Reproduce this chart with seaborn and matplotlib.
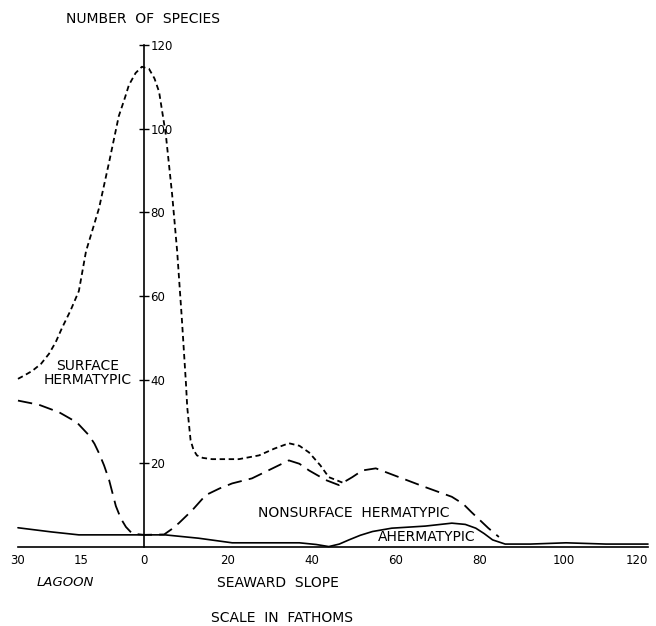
import seaborn as sns
import numpy as np
import pandas as pd
import matplotlib.pyplot as plt

# lagoon depths are stored as negative x so that 0 sits at the reef edge
surface_x = [-30, -28.5, -26.6, -24.5, -22.6, -21, -19.5, -17.5, -15.5, -13.8, -12.2, -10.7,
             -8.3, -6, -4.5, -3.6, -2, -0.5, 1.2, 2.5, 3.6, 5.2, 6.7, 7.9, 9, 10, 10.3,
             11.1, 11.8, 12.6, 14, 16.2, 22.6, 27.4, 31, 34.5, 37, 39.3, 42, 44, 47.5]
surface_y = [40.2, 41, 42.1, 43.8, 46.2, 49, 52.4, 56.5, 61.2, 70.7, 76, 81,
             92, 103, 107.5, 110.4, 113.3, 114.8, 114.3, 112, 108.8, 98.6, 84.3, 70.7, 54.8, 39, 33.4,
             25.5, 23.2, 21.9, 21.3, 21, 21, 21.9, 23.5, 24.8, 24.2, 22.6, 19.5, 16.7, 15.3]

nonsurf_x = [-30, -25, -20.2, -16, -13.1, -11.8, -10.7, -9.5, -8.3, -6.7, -5.5, -4.3, -2.8, 0, 4.8,
             6.5, 8.3, 11.5, 14.7, 18, 21, 25.7, 30, 34.5, 37, 39.3, 43.3, 46.4,
             49.6, 52, 55.2, 60.7, 67, 73.3, 76, 78, 82, 84.5]
nonsurf_y = [35, 34, 32.2, 29.8, 26.7, 24.7, 22.4, 19.5, 16, 9.8, 6.8, 4.8, 3.2, 2.9, 3,
             4.2, 5.7, 8.8, 12.4, 14, 15.2, 16.4, 18.5, 20.7, 19.9, 18.3, 16, 14.8,
             16.7, 18.3, 18.8, 16.7, 14.3, 12, 10.3, 8.3, 4.5, 2.4]

aherm_x = [-30, -22, -15.5, 0, 5, 13, 21, 30, 37, 41, 44, 46.5, 48.8, 51.5, 54.4, 59, 67,
           73.3, 76.5, 79, 81, 83, 86, 92, 100.5, 110, 120]
aherm_y = [4.6, 3.6, 2.9, 2.9, 2.9, 2.1, 1, 1, 1, 0.6, 0.1, 0.7, 1.7, 2.8, 3.7, 4.5, 5,
           5.7, 5.4, 4.5, 3.2, 1.7, 0.7, 0.7, 1, 0.7, 0.7]

x_ticks = [-30, -15, 0, 20, 40, 60, 80, 100, 120]
x_tick_labels = ["30", "15", "0", "20", "40", "60", "80", "100", "120"]
y_ticks = [20, 40, 60, 80, 100, 120]

sns.set_style("white")
plt.rcParams['font.family'] = ['DejaVu Sans']
for key in ['text.color', 'axes.labelcolor', 'xtick.color', 'ytick.color', 'axes.edgecolor']:
    plt.rcParams[key] = 'black'

fig = plt.figure(figsize=(6.56, 6.26), dpi=100)
ax = fig.add_axes([0.0274, 0.1262, 0.9604, 0.8019])

sns.lineplot(x=surface_x, y=surface_y, ax=ax, sort=False, estimator=None,
             color="black", linewidth=1.3, linestyle=(0, (3, 2)))
sns.lineplot(x=nonsurf_x, y=nonsurf_y, ax=ax, sort=False, estimator=None,
             color="black", linewidth=1.3, linestyle=(0, (8, 4)))
sns.lineplot(x=aherm_x, y=aherm_y, ax=ax, sort=False, estimator=None,
             color="black", linewidth=1.2)
for ln in ax.lines:
    ln.set_clip_on(False)
    ln.set_solid_joinstyle('round')
    ln.set_dash_joinstyle('round')

ax.set_xlim(-30, 120)
ax.set_ylim(0, 120)

# y axis drawn at the reef edge, labels on its right
ax.spines['left'].set_visible(False)
ax.spines['top'].set_visible(False)
ax.spines['right'].set_position(('data', 0))
ax.spines['right'].set_bounds(0, 120)
ax.spines['right'].set_linewidth(1.2)
ax.spines['bottom'].set_linewidth(1.2)
ax.yaxis.tick_right()
ax.set_yticks(y_ticks)
ax.tick_params(axis='y', direction='inout', length=7, width=1, labelsize=8.5, pad=1)

ax.set_xticks(x_ticks)
ax.set_xticklabels(x_tick_labels)
ax.tick_params(axis='x', direction='out', length=3, width=1, labelsize=8.5, pad=2)
ax.get_xticklabels()[-1].set_horizontalalignment('right')
ax.set_xlabel("")
ax.set_ylabel("")

ax.text(-13.3, 41.7, "SURFACE\nHERMATYPIC", ha="center", va="center",
        fontsize=10, linespacing=1.0)
ax.text(50, 8.1, "NONSURFACE  HERMATYPIC", ha="center", va="center", fontsize=10)
ax.text(67.4, 2.4, "AHERMATYPIC", ha="center", va="center", fontsize=10)

fig.text(0.218, 0.970, "NUMBER  OF  SPECIES", ha="center", va="center", fontsize=10)
fig.text(0.099, 0.069, "LAGOON", ha="center", va="center", fontsize=9.5, style="italic")
fig.text(0.424, 0.069, "SEAWARD  SLOPE", ha="center", va="center", fontsize=10)
fig.text(0.43, 0.013, "SCALE  IN  FATHOMS", ha="center", va="center", fontsize=10)

fig.savefig("out.png", dpi=100)
